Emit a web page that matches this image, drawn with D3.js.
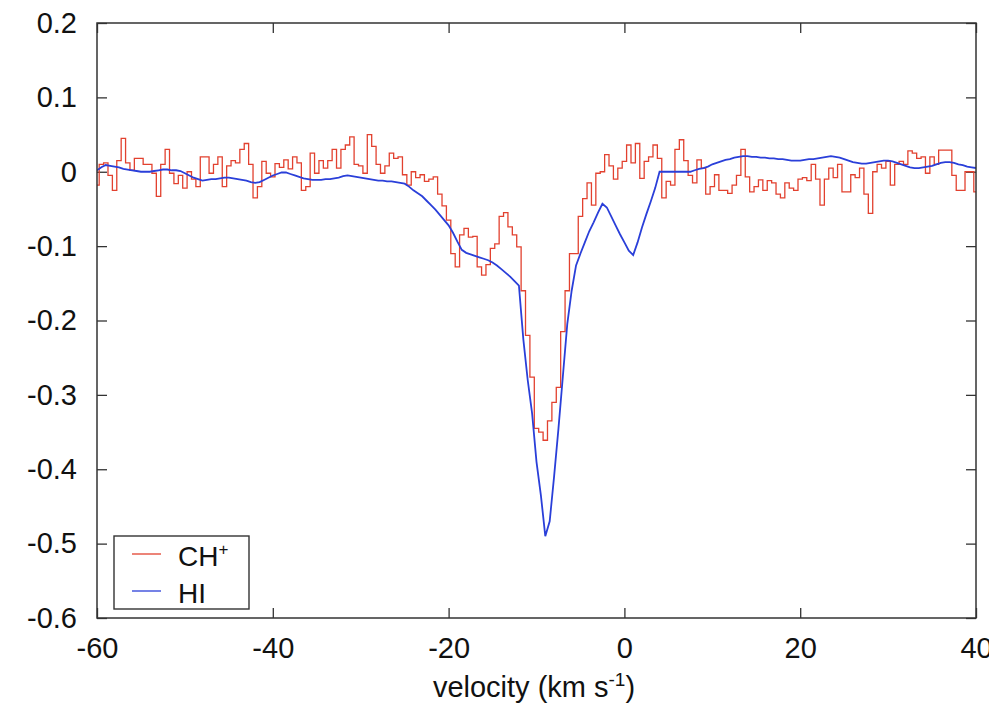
<!DOCTYPE html>
<html><head><meta charset="utf-8">
<script src="https://cdn.jsdelivr.net/npm/d3@7"></script>
<style>
html,body{margin:0;padding:0;background:#fff;}
svg{display:block;font-family:"Liberation Sans",Arial,Helvetica,sans-serif;}
</style></head>
<body><svg id="chart" width="989" height="714"></svg>
<script>
// velocity grid (km/s): start, step
const velocityStart = -60;
const velocityStep = 0.5;

// CH+ spectrum, one value per 0.5 km/s from -60 to 40
const chPlus = [
  -0.018, 0.010, 0.012, -0.005, -0.025, 0.015, 0.045, 0.012, 0.002, 0.018,   // -60 .. -55.5
  0.018, 0.010, 0.010, -0.002, -0.033, 0.010, 0.030, -0.002, -0.016, -0.005, // -55 .. -50.5
  -0.022, 0.000, -0.010, -0.020, 0.020, 0.020, -0.002, 0.010, 0.020, -0.020, // -50 .. -45.5
  0.008, 0.015, 0.012, 0.030, 0.038, 0.010, -0.035, -0.020, 0.014, -0.002,   // -45 .. -40.5
  -0.007, 0.011, 0.006, 0.016, 0.004, 0.020, 0.012, -0.025, -0.020, 0.025,   // -40 .. -35.5
  -0.002, 0.015, 0.005, 0.015, 0.030, 0.005, 0.030, 0.036, 0.047, 0.010,     // -35 .. -30.5
  0.008, -0.002, 0.050, 0.034, 0.010, -0.002, 0.008, 0.025, 0.018, 0.020,    // -30 .. -25.5
  -0.004, -0.018, 0.000, -0.008, -0.004, -0.013, -0.010, -0.007, -0.030, -0.046, // -25 .. -20.5
  -0.065, -0.110, -0.128, -0.085, -0.076, -0.088, -0.087, -0.128, -0.139, -0.125, // -20 .. -15.5
  -0.103, -0.097, -0.060, -0.055, -0.074, -0.085, -0.101, -0.160, -0.220, -0.276, // -15 .. -10.5
  -0.345, -0.350, -0.361, -0.335, -0.310, -0.290, -0.215, -0.160, -0.110, -0.110, // -10 .. -5.5
  -0.060, -0.036, -0.015, -0.045, -0.002, 0.000, 0.023, 0.008, -0.010, 0.005,  // -5 .. -0.5
  0.014, 0.036, 0.012, 0.038, -0.009, 0.014, 0.020, 0.036, 0.018, -0.035,     // 0 .. 4.5
  -0.013, -0.018, 0.030, 0.043, 0.015, -0.005, -0.015, 0.016, 0.005, -0.030,  // 5 .. 9.5
  -0.020, -0.004, -0.025, -0.025, -0.029, -0.018, -0.005, 0.030, -0.007, -0.027, // 10 .. 14.5
  -0.020, -0.011, -0.025, -0.012, -0.015, -0.030, -0.035, -0.015, -0.022, -0.025, // 15 .. 19.5
  -0.010, -0.008, -0.012, 0.010, -0.010, -0.045, -0.010, 0.005, -0.008, 0.010,  // 20 .. 24.5
  -0.027, -0.027, -0.004, -0.008, 0.005, -0.030, -0.056, 0.000, 0.010, 0.005,  // 25 .. 29.5
  0.014, -0.018, 0.010, 0.014, 0.010, 0.028, 0.025, 0.018, 0.020, -0.002,     // 30 .. 34.5
  0.020, 0.010, 0.029, 0.029, 0.029, -0.005, -0.025, -0.025, 0.000, 0.000,    // 35 .. 39.5
  -0.027                                                                        // 40
];

// HI spectrum, one value per 0.5 km/s from -60 to 40
const hI = [
  0.002, 0.006, 0.009, 0.008, 0.007, 0.006, 0.004, 0.003, 0.002, 0.001,       // -60 .. -55.5
  0.000, 0.000, 0.000, 0.001, 0.002, 0.003, 0.003, 0.002, 0.002, 0.001,       // -55 .. -50.5
  -0.002, -0.005, -0.008, -0.010, -0.012, -0.011, -0.010, -0.010, -0.009, -0.008, // -50 .. -45.5
  -0.008, -0.009, -0.010, -0.011, -0.012, -0.014, -0.015, -0.014, -0.011, -0.008, // -45 .. -40.5
  -0.005, -0.003, -0.001, -0.001, -0.003, -0.005, -0.007, -0.009, -0.010, -0.011, // -40 .. -35.5
  -0.011, -0.011, -0.010, -0.010, -0.009, -0.008, -0.006, -0.005, -0.006, -0.007, // -35 .. -30.5
  -0.008, -0.009, -0.010, -0.011, -0.012, -0.012, -0.013, -0.013, -0.014, -0.015, // -30 .. -25.5
  -0.016, -0.020, -0.025, -0.029, -0.033, -0.039, -0.045, -0.051, -0.058, -0.065, // -25 .. -20.5
  -0.072, -0.082, -0.094, -0.105, -0.109, -0.111, -0.113, -0.115, -0.117, -0.119, // -20 .. -15.5
  -0.122, -0.126, -0.131, -0.136, -0.141, -0.147, -0.153, -0.225, -0.280, -0.325, // -15 .. -10.5
  -0.390, -0.435, -0.490, -0.470, -0.410, -0.345, -0.275, -0.205, -0.160, -0.126, // -10 .. -5.5
  -0.110, -0.095, -0.080, -0.068, -0.055, -0.043, -0.048, -0.060, -0.072, -0.084, // -5 .. -0.5
  -0.095, -0.106, -0.112, -0.095, -0.075, -0.057, -0.040, -0.022, 0.000, 0.000,   // 0 .. 4.5
  0.000, 0.000, 0.000, 0.000, 0.000, 0.000, 0.002, 0.004, 0.005, 0.007,       // 5 .. 9.5
  0.010, 0.012, 0.014, 0.016, 0.017, 0.019, 0.020, 0.021, 0.021, 0.020,       // 10 .. 14.5
  0.020, 0.019, 0.019, 0.018, 0.018, 0.017, 0.017, 0.016, 0.015, 0.015,       // 15 .. 19.5
  0.015, 0.016, 0.017, 0.017, 0.018, 0.019, 0.020, 0.021, 0.020, 0.019,       // 20 .. 24.5
  0.017, 0.015, 0.013, 0.012, 0.011, 0.011, 0.012, 0.013, 0.014, 0.015,       // 25 .. 29.5
  0.015, 0.014, 0.012, 0.010, 0.008, 0.006, 0.005, 0.005, 0.006, 0.007,       // 30 .. 34.5
  0.008, 0.010, 0.012, 0.013, 0.013, 0.012, 0.010, 0.009, 0.007, 0.006,       // 35 .. 39.5
  0.005                                                                         // 40
];

const xTicks = [-60, -40, -20, 0, 20, 40];
const yTicks = [-0.6, -0.5, -0.4, -0.3, -0.2, -0.1, 0, 0.1, 0.2];
const seriesNames = ["CH+", "HI"];

const svg = d3.select("#chart");
const L = 97, R = 976, T = 23, B = 618;
const FS = 29;
const x = d3.scaleLinear().domain([-60, 40]).range([L, R]);
const y = d3.scaleLinear().domain([-0.6, 0.2]).range([B, T]);

const fmt = d => { const r = Math.round(d * 10) / 10; return r === 0 ? "0" : String(r); };

svg.append("defs").append("clipPath").attr("id", "clip")
  .append("rect").attr("x", L).attr("y", T).attr("width", R - L).attr("height", B - T);

// axes (inward ticks, mirrored)
const styleAxis = (g) => {
  g.select(".domain").remove();
  g.selectAll(".tick line").attr("stroke", "#333").attr("stroke-width", 1.3);
  g.selectAll(".tick text").attr("fill", "#111").style("font-size", FS + "px")
    .style("font-family", "'Liberation Sans', Arial, sans-serif");
};
svg.append("g").attr("transform", `translate(0,${B})`)
  .call(d3.axisBottom(x).tickValues(xTicks).tickSizeInner(-10).tickSizeOuter(0).tickPadding(19).tickFormat(d => String(d)))
  .call(styleAxis);
svg.append("g").attr("transform", `translate(0,${T})`)
  .call(d3.axisTop(x).tickValues(xTicks).tickSizeInner(-10).tickSizeOuter(0).tickFormat(""))
  .call(styleAxis);
svg.append("g").attr("transform", `translate(${L},0)`)
  .call(d3.axisLeft(y).tickValues(yTicks).tickSizeInner(-10).tickSizeOuter(0).tickPadding(20).tickFormat(fmt))
  .call(styleAxis);
svg.append("g").attr("transform", `translate(${R},0)`)
  .call(d3.axisRight(y).tickValues(yTicks).tickSizeInner(-10).tickSizeOuter(0).tickFormat(""))
  .call(styleAxis);

// data lines
const toPts = arr => arr.map((v, i) => [velocityStart + i * velocityStep, v]);
const stepLine = d3.line().x(d => x(d[0])).y(d => y(d[1])).curve(d3.curveStep);
const smoothLine = d3.line().x(d => x(d[0])).y(d => y(d[1])).curve(d3.curveLinear);
const colors = { "CH+": "#e2412f", "HI": "#2a3fd9" };
const plot = svg.append("g").attr("clip-path", "url(#clip)");
plot.append("path").datum(toPts(chPlus)).attr("d", stepLine)
  .attr("fill", "none").attr("stroke", colors["CH+"]).attr("stroke-width", 1.3);
plot.append("path").datum(toPts(hI)).attr("d", smoothLine)
  .attr("fill", "none").attr("stroke", colors["HI"]).attr("stroke-width", 1.8);

// frame
svg.append("rect").attr("x", L).attr("y", T).attr("width", R - L).attr("height", B - T)
  .attr("fill", "none").attr("stroke", "#333").attr("stroke-width", 1.5);

// legend
const lg = svg.append("g");
lg.append("rect").attr("x", 114).attr("y", 536).attr("width", 135).attr("height", 73)
  .attr("fill", "#fff").attr("stroke", "#333").attr("stroke-width", 1.4);
const rows = [{ n: seriesNames[0], y: 554 }, { n: seriesNames[1], y: 591 }];
rows.forEach(r => {
  lg.append("line").attr("x1", 132).attr("x2", 161).attr("y1", r.y).attr("y2", r.y)
    .attr("stroke", colors[r.n]).attr("stroke-width", 1.3);
  const t = lg.append("text").attr("x", 178).attr("y", r.y + 12).attr("fill", "#111")
    .style("font-size", "28px");
  if (r.n === "CH+") {
    t.append("tspan").text("CH");
    t.append("tspan").attr("dy", -11).style("font-size", "17px").text("+");
  } else {
    t.text(r.n);
  }
});

// x-axis label
const xl = svg.append("text").attr("x", 534).attr("y", 697).attr("text-anchor", "middle")
  .attr("fill", "#111").style("font-size", FS + "px");
xl.append("tspan").text("velocity (km s");
xl.append("tspan").attr("dy", -11).style("font-size", "19px").text("-1");
xl.append("tspan").attr("dy", 11).text(")");
</script></body></html>
